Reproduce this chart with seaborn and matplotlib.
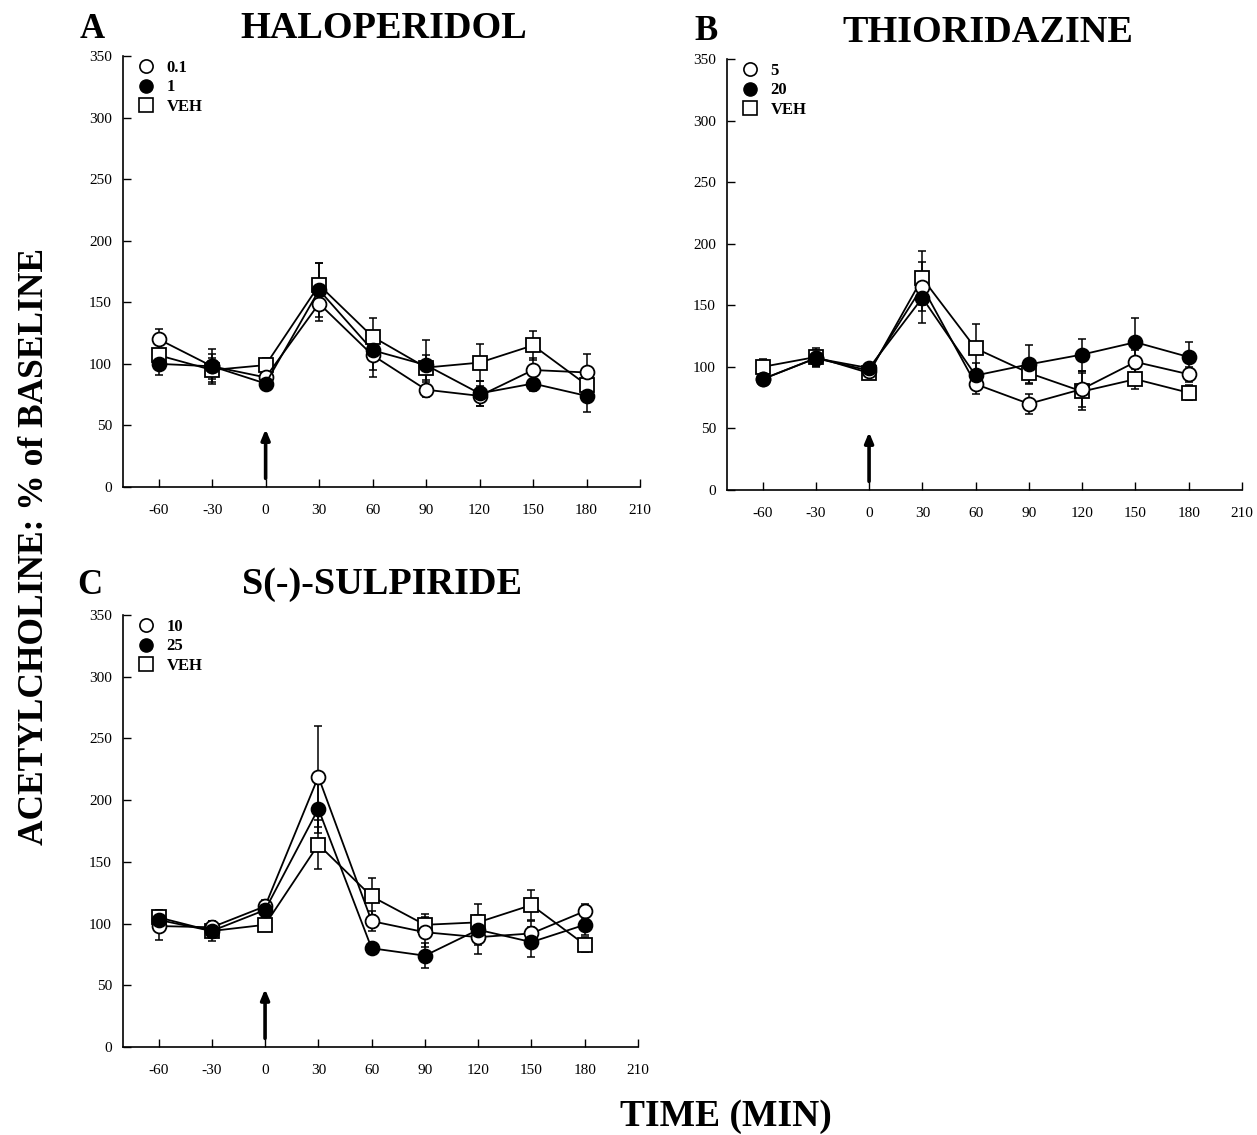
import matplotlib
matplotlib.use("Agg")
import matplotlib.pyplot as plt
from matplotlib.lines import Line2D
import seaborn as sns
import pandas as pd

sns.set_style("ticks")
plt.rcParams['font.family'] = ['Liberation Serif', 'DejaVu Serif']
for k in ['text.color', 'axes.labelcolor', 'xtick.color', 'ytick.color', 'axes.edgecolor']:
    plt.rcParams[k] = 'black'

times = [-60, -30, 0, 30, 60, 90, 120, 150, 180]
x_ticks = [-60, -30, 0, 30, 60, 90, 120, 150, 180, 210]
y_ticks = [0, 50, 100, 150, 200, 250, 300, 350]

# Panel A: Haloperidol
a_titles = ("A", "HALOPERIDOL")
a_labels = ["0.1", "1", "VEH"]
a_low = [120, 98, 89, 149, 107, 79, 74, 95, 93]
a_low_err = [8, 10, 6, 14, 18, 6, 8, 10, 15]
a_high = [100, 98, 84, 160, 111, 99, 76, 84, 74]
a_high_err = [9, 14, 5, 22, 16, 20, 10, 6, 13]
a_veh = [107, 95, 99, 164, 122, 97, 101, 115, 83]
a_veh_err = [10, 10, 6, 18, 15, 10, 15, 12, 10]

# Panel B: Thioridazine
b_titles = ("B", "THIORIDAZINE")
b_labels = ["5", "20", "VEH"]
b_low = [90, 107, 97, 165, 86, 70, 82, 104, 94]
b_low_err = [5, 6, 4, 20, 8, 8, 15, 10, 6]
b_high = [90, 107, 99, 156, 93, 102, 110, 120, 108]
b_high_err = [5, 7, 4, 20, 10, 16, 13, 20, 12]
b_veh = [100, 108, 95, 172, 115, 95, 80, 90, 79]
b_veh_err = [6, 7, 4, 22, 20, 8, 15, 8, 6]

# Panel C: S(-)-Sulpiride
c_titles = ("C", "S(-)-SULPIRIDE")
c_labels = ["10", "25", "VEH"]
c_low = [98, 97, 114, 219, 102, 93, 89, 92, 110]
c_low_err = [11, 5, 5, 41, 8, 12, 14, 10, 6]
c_high = [103, 94, 111, 193, 80, 74, 95, 85, 99]
c_high_err = [8, 8, 6, 20, 4, 10, 12, 12, 8]
c_veh = [105, 94, 99, 164, 122, 99, 101, 115, 83]
c_veh_err = [6, 6, 4, 20, 15, 9, 15, 12, 6]

W, H = 1257, 1135
fig = plt.figure(figsize=(W / 100, H / 100), dpi=100)

def frac(left, top, right, bottom):
    return [left / W, 1 - bottom / H, (right - left) / W, (bottom - top) / H]

axA = fig.add_axes(frac(123, 56, 640, 487))
axB = fig.add_axes(frac(727, 59, 1242, 490))
axC = fig.add_axes(frac(123, 615, 638, 1047))

styles = [
    dict(marker='s', markerfacecolor='white', markersize=10.5),
    dict(marker='o', markerfacecolor='white', markersize=10),
    dict(marker='o', markerfacecolor='black', markersize=10),
]

def draw(ax, titles, labels, low, low_err, high, high_err, veh, veh_err, title_x, letter_x, title_y):
    series = [(veh, veh_err), (low, low_err), (high, high_err)]
    for (vals, errs), st in zip(series, styles):
        df = pd.DataFrame({"t": times, "v": vals})
        ax.errorbar(times, vals, yerr=errs, fmt='none', ecolor='black',
                    elinewidth=1.1, capsize=3, capthick=1.1, zorder=2)
        sns.lineplot(data=df, x="t", y="v", ax=ax, color='black', lw=1.3,
                     markeredgecolor='black', markeredgewidth=1.3,
                     zorder=3, **st)
    ax.set_xlim(-80, 210)
    ax.set_ylim(0, 350)
    ax.set_xticks(x_ticks)
    ax.set_yticks(y_ticks)
    ax.set_xticklabels([str(v) for v in x_ticks])
    ax.set_yticklabels([str(v) for v in y_ticks])
    ax.tick_params(direction='in', length=6, width=1, labelsize=11, pad=12)
    ax.tick_params(axis='y', pad=8)
    sns.despine(ax=ax)
    for s in ['left', 'bottom']:
        ax.spines[s].set_linewidth(1.2)
    ax.set_xlabel("")
    ax.set_ylabel("")
    ax.annotate('', xy=(0, 47), xytext=(0, 7),
                arrowprops=dict(arrowstyle='-|>,head_width=0.25,head_length=0.6',
                                lw=2.6, color='black', shrinkA=0, shrinkB=0))
    handles = [
        Line2D([], [], ls='none', marker='o', markerfacecolor='white', markeredgecolor='black', markersize=9.5, markeredgewidth=1.2),
        Line2D([], [], ls='none', marker='o', markerfacecolor='black', markeredgecolor='black', markersize=9.5),
        Line2D([], [], ls='none', marker='s', markerfacecolor='white', markeredgecolor='black', markersize=10, markeredgewidth=1.2),
    ]
    ax.legend(handles, labels, loc='upper left', frameon=False,
              prop={'weight': 'bold', 'size': 12}, handletextpad=0.65,
              labelspacing=0.2, borderaxespad=0.0, bbox_to_anchor=(0.012, 1.006),
              handlelength=1.2)
    fig.text(title_x / W, 1 - title_y / H, titles[1], ha='center', va='center',
             fontsize=27.5, fontweight='bold')
    fig.text(letter_x / W, 1 - title_y / H, titles[0], ha='center', va='center',
             fontsize=25, fontweight='bold')

draw(axA, a_titles, a_labels, a_low, a_low_err, a_high, a_high_err, a_veh, a_veh_err, 384, 92, 29)
draw(axB, b_titles, b_labels, b_low, b_low_err, b_high, b_high_err, b_veh, b_veh_err, 988, 706, 32)
draw(axC, c_titles, c_labels, c_low, c_low_err, c_high, c_high_err, c_veh, c_veh_err, 382, 90, 585)

fig.text(35 / W, 1 - 547 / H, "ACETYLCHOLINE: % of BASELINE", rotation=90,
         ha='center', va='center', fontsize=25.5, fontweight='bold')
fig.text(726 / W, 1 - 1117 / H, "TIME (MIN)", ha='center', va='center',
         fontsize=27, fontweight='bold')

fig.savefig("out.png", dpi=100)
